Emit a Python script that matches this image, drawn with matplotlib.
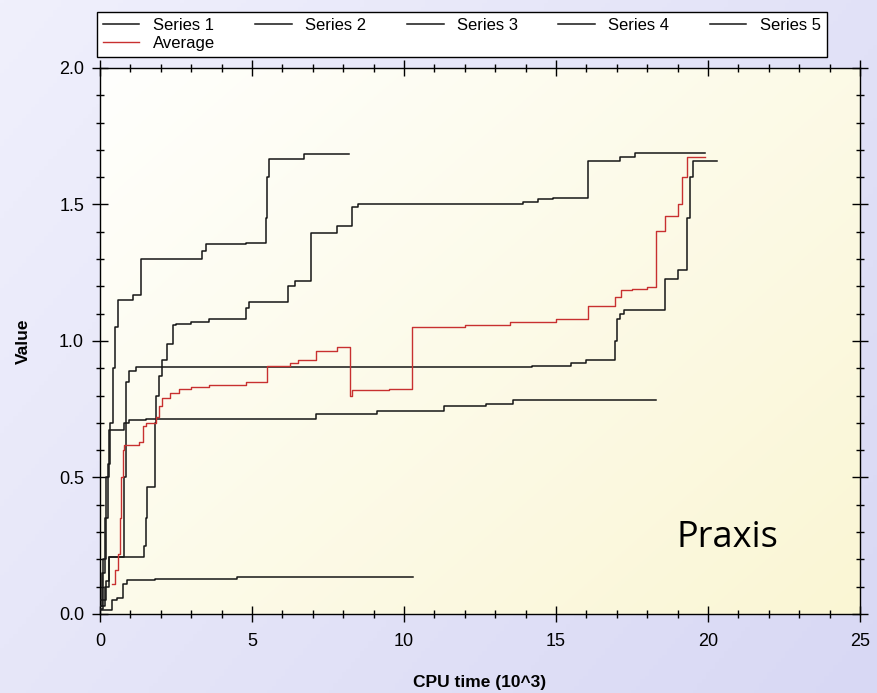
import numpy as np
import matplotlib
matplotlib.use("Agg")
import matplotlib.pyplot as plt
from matplotlib.ticker import MultipleLocator

# podaci ocitani sa slike (x = CPU time u 10^3, y = vrijednost), crtano kao stepenice
s1_x = [0, 0.08, 0.15, 0.25, 0.33, 0.42, 0.5, 0.6, 1.1, 1.35, 3.35, 3.5, 4.8, 5.45, 5.5, 5.55, 6.7, 8.2]
s1_y = [0.03, 0.15, 0.35, 0.55, 0.7, 0.9, 1.05, 1.15, 1.17, 1.30, 1.33, 1.355, 1.36, 1.45, 1.6, 1.665, 1.685, 1.685]

s2_x = [0, 0.2, 0.3, 1.45, 1.5, 1.55, 1.8, 1.85, 1.95, 2.05, 2.2, 2.4, 2.5, 3.0, 3.6, 4.8, 4.9,
        6.2, 6.4, 6.95, 7.8, 8.3, 8.5, 9.0, 13.9, 14.4, 14.9, 16.05, 17.1, 17.6, 19.9]
s2_y = [0.05, 0.12, 0.21, 0.25, 0.35, 0.465, 0.70, 0.80, 0.87, 0.93, 0.99, 1.057, 1.063, 1.07, 1.082, 1.12, 1.142,
        1.2, 1.22, 1.395, 1.42, 1.49, 1.50, 1.502, 1.51, 1.52, 1.525, 1.66, 1.675, 1.69, 1.69]

s3_x = [0, 0.15, 0.3, 0.8, 0.85, 0.95, 1.2, 14.2, 15.5, 16.0, 16.95, 17.0, 17.1, 17.25,
        18.6, 19.0, 19.3, 19.4, 19.5, 20.3]
s3_y = [0.03, 0.1, 0.21, 0.5, 0.85, 0.89, 0.903, 0.91, 0.92, 0.93, 1.0, 1.08, 1.10, 1.113,
        1.227, 1.26, 1.45, 1.6, 1.66, 1.66]

s4_x = [0, 0.1, 0.2, 0.3, 0.8, 0.95, 1.5, 7.1, 9.1, 11.3, 12.7, 13.6, 18.3]
s4_y = [0.02, 0.2, 0.5, 0.675, 0.70, 0.712, 0.715, 0.734, 0.745, 0.76, 0.77, 0.785, 0.785]

s5_x = [0, 0.4, 0.55, 0.75, 0.9, 1.8, 4.5, 10.3]
s5_y = [0.015, 0.05, 0.06, 0.11, 0.124, 0.13, 0.135, 0.135]

avg_x = [0.4, 0.5, 0.6, 0.65, 0.7, 0.75, 0.8, 1.3, 1.4, 1.5, 1.85, 1.95, 2.05, 2.3, 2.6, 3.0, 3.6,
         4.8, 5.5, 6.25, 6.5, 7.1, 7.8, 8.22, 8.3, 9.5, 10.25, 12.0, 13.5, 15.0, 16.06, 16.94,
         17.15, 17.5, 18.0, 18.3, 18.6, 19.0, 19.15, 19.3, 19.9]
avg_y = [0.11, 0.16, 0.22, 0.35, 0.5, 0.6, 0.62, 0.63, 0.69, 0.70, 0.72, 0.76, 0.79, 0.81, 0.825, 0.831, 0.837,
         0.85, 0.91, 0.92, 0.93, 0.965, 0.977, 0.80, 0.82, 0.825, 1.05, 1.06, 1.07, 1.08, 1.127, 1.16,
         1.185, 1.19, 1.199, 1.404, 1.459, 1.50, 1.6, 1.672, 1.672]

series = [(s1_x, s1_y, "Series 1"), (s2_x, s2_y, "Series 2"), (s3_x, s3_y, "Series 3"),
          (s4_x, s4_y, "Series 4"), (s5_x, s5_y, "Series 5")]

plt.rcParams['font.family'] = ['Liberation Sans', 'DejaVu Sans']

fig = plt.figure(figsize=(8.77, 6.93), dpi=100)

# pozadina slike - lagani ljubicasti gradijent
bg = fig.add_axes([0, 0, 1, 1], zorder=-10)
gx, gy = np.meshgrid(np.linspace(0, 1, 200), np.linspace(0, 1, 200))
t = (0.6 * gx + 0.4 * gy)
c0 = np.array([240, 240, 252]) / 255
c1 = np.array([216, 216, 244]) / 255
bg.imshow(c0 + (c1 - c0) * t[..., None], aspect='auto', extent=[0, 1, 0, 1], origin='upper')
bg.axis('off')

ax = fig.add_axes([0.114, 0.114, 0.8666, 0.788])

# pozadina grafa - bijelo prema blijedo zutoj
t2 = np.clip(0.55 * gx + 0.45 * gy, 0, 1)
p0 = np.array([255, 255, 253]) / 255
p1 = np.array([250, 246, 212]) / 255
ax.imshow(p0 + (p1 - p0) * t2[..., None], aspect='auto', extent=[0, 25, 0, 2], origin='upper', zorder=0)

handles = []
for xs, ys, name in series:
    h, = ax.plot(xs, ys, drawstyle='steps-post', color='#161616', lw=1.1, label=name, zorder=3)
    handles.append(h)
h_avg, = ax.plot(avg_x, avg_y, drawstyle='steps-post', color='#c83030', lw=1.0, label="Average", zorder=4)

ax.set_xlim(0, 25)
ax.set_ylim(0, 2)
ax.xaxis.set_major_locator(MultipleLocator(5))
ax.xaxis.set_minor_locator(MultipleLocator(1))
ax.yaxis.set_major_locator(MultipleLocator(0.5))
ax.yaxis.set_minor_locator(MultipleLocator(0.1))
ax.yaxis.set_major_formatter(matplotlib.ticker.FormatStrFormatter('%.1f'))
ax.tick_params(which='both', direction='inout', top=True, right=True, labelsize=13, color='black')
ax.tick_params(which='major', length=11, width=1)
ax.tick_params(which='minor', length=6, width=1)
ax.tick_params(axis='x', which='major', pad=8)
ax.tick_params(axis='y', which='major', pad=6)
for sp in ax.spines.values():
    sp.set_color('black')
    sp.set_linewidth(1)

ax.set_xlabel("CPU time (10^3)", fontsize=12.5, fontweight='bold', labelpad=18)
ax.set_ylabel("Value", fontsize=12.5, fontweight='bold', labelpad=20)

ax.text(0.826, 0.14, "Praxis", transform=ax.transAxes, fontsize=26, family='Open Sans',
        ha='center', va='center', color='black')

# legenda: 5 stupaca, Average ispod Series 1
order = [handles[0], h_avg] + handles[1:]
leg = fig.legend(order, [h.get_label() for h in order], ncol=5, loc='upper left',
                 bbox_to_anchor=(0.1106, 0.983, 0.832, 0.0), mode='expand', borderaxespad=0,
                 fancybox=False, edgecolor='black', framealpha=1, fontsize=12,
                 handlelength=2.2, handletextpad=0.8, columnspacing=2.0,
                 labelspacing=0.2, borderpad=0.35)
leg.get_frame().set_linewidth(1)

plt.savefig("out.png", dpi=100)
